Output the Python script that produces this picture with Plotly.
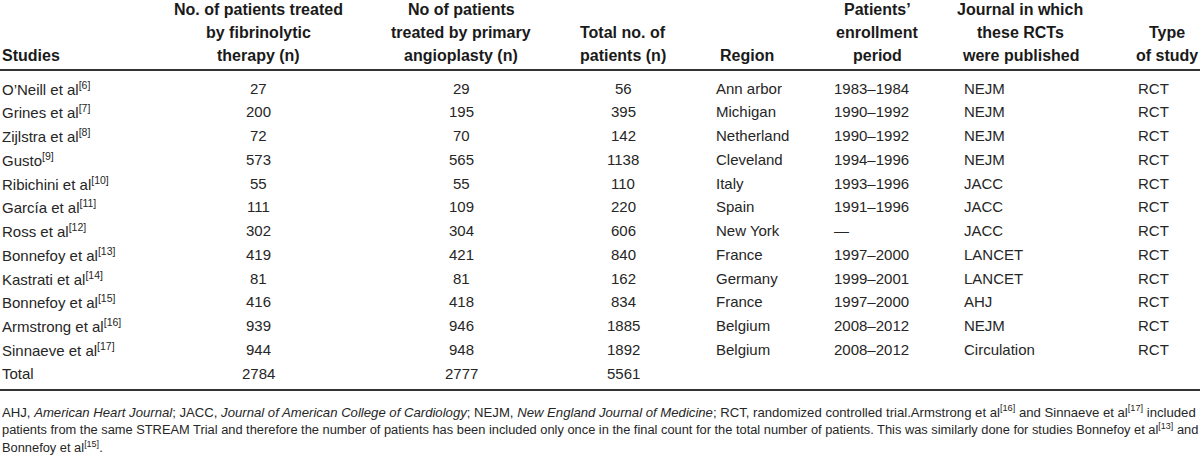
import plotly.graph_objects as go

# ---------------- data ----------------
studies = ["O’Neill et al", "Grines et al", "Zijlstra et al", "Gusto", "Ribichini et al",
           "García et al", "Ross et al", "Bonnefoy et al", "Kastrati et al", "Bonnefoy et al",
           "Armstrong et al", "Sinnaeve et al"]
refs = [6, 7, 8, 9, 10, 11, 12, 13, 14, 15, 16, 17]
fibrinolytic = [27, 200, 72, 573, 55, 111, 302, 419, 81, 416, 939, 944]
angioplasty = [29, 195, 70, 565, 55, 109, 304, 421, 81, 418, 946, 948]
total_patients = [56, 395, 142, 1138, 110, 220, 606, 840, 162, 834, 1885, 1892]
region = ["Ann arbor", "Michigan", "Netherland", "Cleveland", "Italy", "Spain", "New York",
          "France", "Germany", "France", "Belgium", "Belgium"]
period = ["1983–1984", "1990–1992", "1990–1992", "1994–1996", "1993–1996", "1991–1996", "—",
          "1997–2000", "1999–2001", "1997–2000", "2008–2012", "2008–2012"]
journal = ["NEJM", "NEJM", "NEJM", "NEJM", "JACC", "JACC", "JACC", "LANCET", "LANCET", "AHJ",
           "NEJM", "Circulation"]
study_type = ["RCT"] * 12
total_label = "Total"
totals = [2784, 2777, 5561]

headers = [
    ["", "", "Studies"],
    ["No. of patients treated", "by fibrinolytic", "therapy (n)"],
    ["No of patients", "treated by primary", "angioplasty (n)"],
    ["", "Total no. of", "patients (n)"],
    ["", "", "Region"],
    ["Patients’", "enrollment", "period"],
    ["Journal in which", "these RCTs", "were published"],
    ["", "Type", "of study"],
]

footnotes = [
    "AHJ, <i>American Heart Journal</i>; JACC, <i>Journal of American College of Cardiology</i>; "
    "NEJM, <i>New England Journal of Medicine</i>; RCT, randomized controlled trial.Armstrong et "
    "al<sup>[16]</sup> and Sinnaeve et al<sup>[17]</sup> included",
    "patients from the same STREAM Trial and therefore the number of patients has been included only "
    "once in the final count for the total number of patients. This was similarly done for studies "
    "Bonnefoy et al<sup>[13]</sup> and",
    "Bonnefoy et al<sup>[15]</sup>.",
]

# ---------------- layout constants ----------------
W, H = 1200, 462
ROW0_PX, ROW_PX = 88.0, 23.75          # pixel centre of first row, row pitch
def px2row(p):
    return (p - ROW0_PX) / ROW_PX

FONT = "Liberation Sans, Arial, Helvetica, sans-serif"
TXT = "#262626"
HEAD_TXT = "#1a1a1a"
BODY_SIZE = 15
HEAD_SIZE = 16
FOOT_SIZES = [13.15, 12.85, 12.85]

# column anchors: (x pixel, anchor)
col_body = [(1, "left"), (258, "center"), (461, "center"), (623, "center"),
            (715, "left"), (833, "left"), (963, "left"), (1137, "left")]
col_head = [(1, "left"), (258, "center"), (461, "center"), (623, "center"),
            (747, "center"), (877, "center"), (1020, "center"), (1167, "center")]
head_rows = [px2row(9), px2row(32), px2row(55)]
rule_top = px2row(70)
rule_bottom = px2row(390)
foot_rows = [px2row(411), px2row(429), px2row(447)]

fig = go.Figure()
fig.add_trace(go.Scatter(x=[0], y=[0], mode="markers", marker=dict(opacity=0),
                         hoverinfo="skip", showlegend=False))

annotations = []

def add_text(x, y, text, anchor, size, bold=False):
    annotations.append(dict(
        x=x, y=y, xref="x", yref="y", text=(f"<b>{text}</b>" if bold else text),
        showarrow=False, xanchor=anchor, yanchor="middle",
        font=dict(family=FONT, size=size, color=(HEAD_TXT if bold else TXT)), borderpad=0,
    ))

# header
for (x, anc), lines in zip(col_head, headers):
    for yr, line in zip(head_rows, lines):
        if line:
            add_text(x, yr, line, anc, HEAD_SIZE, bold=True)

# body rows
columns = [
    [f"{s}<sup>[{r}]</sup>" for s, r in zip(studies, refs)],
    [str(v) for v in fibrinolytic],
    [str(v) for v in angioplasty],
    [str(v) for v in total_patients],
    region, period, journal, study_type,
]
for (x, anc), col in zip(col_body, columns):
    for i, val in enumerate(col):
        add_text(x, i, val, anc, BODY_SIZE)

# total row
n = len(studies)
add_text(col_body[0][0], n, total_label, col_body[0][1], BODY_SIZE)
for (x, anc), v in zip(col_body[1:4], totals):
    add_text(x, n, str(v), anc, BODY_SIZE)

# footnotes
for yr, line, fs in zip(foot_rows, footnotes, FOOT_SIZES):
    add_text(1, yr, line, "left", fs)

shapes = [
    dict(type="line", xref="paper", yref="y", x0=0, x1=1, y0=rule_top, y1=rule_top,
         line=dict(color="#333333", width=2)),
    dict(type="line", xref="paper", yref="y", x0=0, x1=1, y0=rule_bottom, y1=rule_bottom,
         line=dict(color="#333333", width=2)),
]

fig.update_layout(
    width=W, height=H,
    margin=dict(l=0, r=0, t=0, b=0),
    paper_bgcolor="white", plot_bgcolor="white",
    xaxis=dict(range=[0, W], visible=False, fixedrange=True),
    yaxis=dict(range=[px2row(H), px2row(0)], visible=False, fixedrange=True),
    annotations=annotations, shapes=shapes, showlegend=False,
)

fig.write_html(
    "out.html",
    config={"displayModeBar": False},
    post_script="document.body.style.margin='0';document.body.style.padding='0';",
)
